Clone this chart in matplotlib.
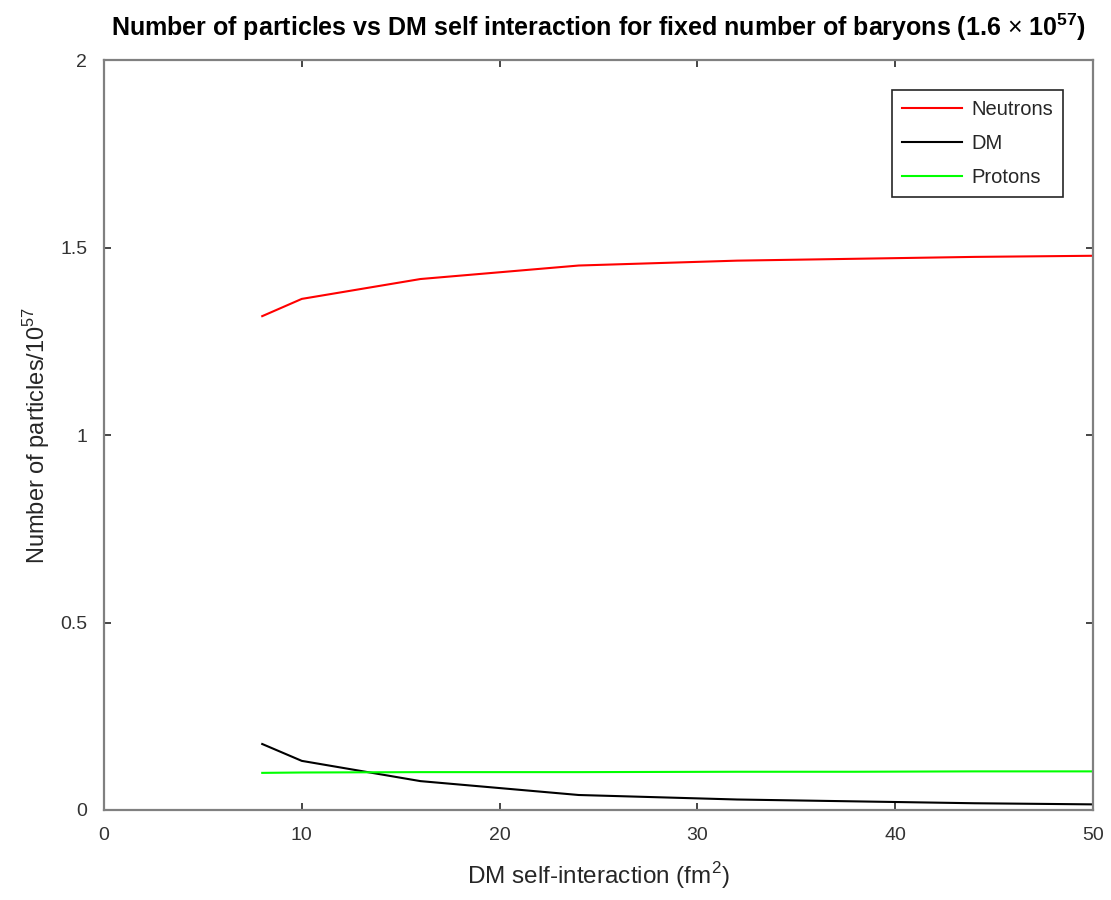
# Library imports
import matplotlib
matplotlib.use('Agg')
import matplotlib.pyplot as plt


# Data
sigma = [8, 10, 16, 24, 32, 38, 44, 50]
neutrons = [1.317, 1.363, 1.416, 1.452, 1.465, 1.470, 1.475, 1.478]
dm = [0.176, 0.131, 0.077, 0.040, 0.028, 0.023, 0.018, 0.015]
protons = [0.099, 0.100, 0.101, 0.101, 0.102, 0.102, 0.103, 0.103]

plt.rcParams['font.family'] = ['Liberation Sans', 'DejaVu Sans']
plt.rcParams['mathtext.fontset'] = 'custom'
plt.rcParams['mathtext.rm'] = 'Liberation Sans'
plt.rcParams['mathtext.bf'] = 'Liberation Sans:bold'

fig = plt.figure(figsize=(11.11, 9), dpi=100)
ax = fig.add_axes([0.0936, 0.1, 0.8902, 0.8333])

ax.plot(sigma, neutrons, color='#ff0000', lw=1.5, label='Neutrons')
ax.plot(sigma, dm, color='#000000', lw=1.5, label='DM')
ax.plot(sigma, protons, color='#00ff00', lw=1.5, label='Protons')

ax.set_xlim(0, 50)
ax.set_ylim(0, 2)
ax.set_xticks([0, 10, 20, 30, 40, 50])
ax.set_yticks([0, 0.5, 1, 1.5, 2])
ax.set_yticklabels(['0', '0.5', '1', '1.5', '2'])
ax.tick_params(direction='in', top=True, right=True, length=5, width=1.2,
               colors='#262626', labelsize=14, labelcolor='#333333', pad=12)
for sp in ax.spines.values():
    sp.set_color('#808080')
    sp.set_linewidth(1.6)

ax.set_xlabel(r'DM self-interaction (fm$^{2}$)', fontsize=17.5, color='#262626', labelpad=12)
ax.set_ylabel(r'Number of particles/10$^{57}$', fontsize=17, color='#262626', labelpad=6)
ax.set_title(r'Number of particles vs DM self interaction for fixed number of baryons (1.6 $\times$ 10$^{\mathbf{57}}$)',
             fontsize=18, fontweight='bold', color='#000000', pad=17)

leg = ax.legend(loc='upper right', bbox_to_anchor=(0.97, 0.96), fontsize=14.5,
                handlelength=3.0, handletextpad=0.45, labelspacing=0.75,
                borderpad=0.5, borderaxespad=0, fancybox=False, framealpha=1)
leg.get_frame().set_edgecolor('#262626')
leg.get_frame().set_linewidth(1.2)
for t in leg.get_texts():
    t.set_color('#262626')

plt.savefig('out.png')
